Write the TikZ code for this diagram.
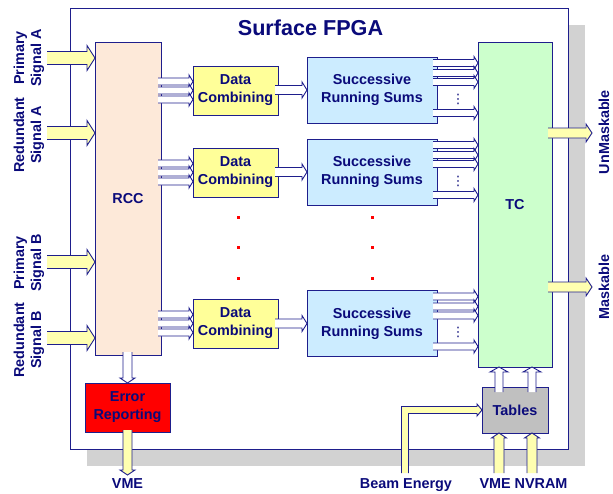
\documentclass[tikz,border=0pt]{standalone}
\usepackage{fontspec}
\setmainfont{Liberation Sans}
\newfontfamily\djv{DejaVu Sans}
\usetikzlibrary{calc}
\definecolor{txtC}{HTML}{0A0A7A}
\definecolor{lineC}{HTML}{1E1E8C}
\definecolor{rccC}{HTML}{FDE9D9}
\definecolor{dcC}{HTML}{FFFF99}
\definecolor{srsC}{HTML}{CCECFF}
\definecolor{tcC}{HTML}{CCFFCC}
\definecolor{tabC}{HTML}{C0C0C0}
\definecolor{errC}{HTML}{FF0000}
\definecolor{yelC}{HTML}{FFFFB0}
\definecolor{shadowC}{HTML}{D2D2D2}
\definecolor{dotC}{HTML}{FF0000}
% horizontal arrow pointing right: style, from, to, body half, head half, head length
\newcommand\hArr[6]{\path[#1] let \p1=#2, \p2=#3 in
  (\x1,\y2+#4) -- (\x2-#6,\y2+#4) -- (\x2-#6,\y2+#5) -- (\x2,\y2) -- (\x2-#6,\y2-#5) -- (\x2-#6,\y2-#4) -- (\x1,\y2-#4);}
% vertical arrow pointing down
\newcommand\dArr[6]{\path[#1] let \p1=#2, \p2=#3 in
  (\x2+#4,\y1) -- (\x2+#4,\y2+#6) -- (\x2+#5,\y2+#6) -- (\x2,\y2) -- (\x2-#5,\y2+#6) -- (\x2-#4,\y2+#6) -- (\x2-#4,\y1);}
% vertical arrow pointing up
\newcommand\uArr[6]{\path[#1] let \p1=#2, \p2=#3 in
  (\x2+#4,\y1) -- (\x2+#4,\y2-#6) -- (\x2+#5,\y2-#6) -- (\x2,\y2) -- (\x2-#5,\y2-#6) -- (\x2-#4,\y2-#6) -- (\x2-#4,\y1);}
\tikzset{
  boxnode/.style={draw=lineC, line width=1pt, inner sep=0pt, outer sep=0pt, text=txtC,
    font=\bfseries\fontsize{14.4}{18}\selectfont, align=center},
  hollow/.style={fill=white, draw=lineC, line width=0.9pt, line join=miter},
  yel/.style={fill=yelC, draw=lineC, line width=0.9pt, line join=miter},
  lbl/.style={text=txtC, font=\bfseries\fontsize{14.4}{17}\selectfont, align=center, inner sep=0pt},
}
\begin{document}
\begin{tikzpicture}[x=1pt,y=-1pt]
\useasboundingbox (0,0) rectangle (613,493);
% shadow and frame
\fill[shadowC] (87,25) rectangle (585,466);
\node[draw=lineC, fill=white, line width=1pt, inner sep=0pt, outer sep=0pt,
  minimum width=498pt, minimum height=441pt] (frame) at (319,228.5) {};
\node[lbl, anchor=base, font=\bfseries\fontsize{21.6}{26}\selectfont] (title) at (310.5,35) {Surface FPGA};
% boxes
\node[boxnode, fill=rccC, minimum width=66pt, minimum height=313pt] (rcc) at (128,198.5) {RCC};
\node[boxnode, fill=dcC, minimum width=85pt, minimum height=49pt] (dc1) at (235.5,90.5) {Data\\Combining};
\node[boxnode, fill=dcC, minimum width=85pt, minimum height=49pt] (dc2) at (235.5,172.5) {Data\\Combining};
\node[boxnode, fill=dcC, minimum width=85pt, minimum height=49pt] (dc3) at (235.5,323.5) {Data\\Combining};
\node[boxnode, fill=srsC, minimum width=130pt, minimum height=66pt] (srs1) at (372,90) {Successive\\Running Sums};
\node[boxnode, fill=srsC, minimum width=130pt, minimum height=66pt] (srs2) at (372,172) {Successive\\Running Sums};
\node[boxnode, fill=srsC, minimum width=130pt, minimum height=66pt] (srs3) at (372,323.5) {Successive\\Running Sums};
\node[boxnode, fill=tcC, minimum width=74pt, minimum height=325pt] (tc) at (515,204.5) {TC};
\node[boxnode, fill=tabC, minimum width=66pt, minimum height=46pt] (tables) at (515,410) {Tables};
\node[boxnode, fill=errC, minimum width=85pt, minimum height=49pt] (err) at (127.5,407.5) {Error\\Reporting};
% red dots
\foreach \xx in {238,372} \foreach \yy in {217,247,278}
  \fill[dotC] (\xx-1.5,\yy-1.5) rectangle ++(3,3);
% input arrows
\coordinate (inPA) at (47,58);
\coordinate (inRA) at (47,133);
\coordinate (inPB) at (47,262);
\coordinate (inRB) at (47,338);
\foreach \c in {inPA,inRA,inPB,inRB}
  \hArr{yel}{(\c)}{(\c -| rcc.west)}{6.5pt}{12.5pt}{8pt};
% input labels
\node[lbl, rotate=90] (lPA) at (29,58) {Primary\\Signal A};
\node[lbl, rotate=90] (lRA) at (29,135) {Redundant\\Signal A};
\node[lbl, rotate=90] (lPB) at (29,263) {Primary\\Signal B};
\node[lbl, rotate=90] (lRB) at (29,340) {Redundant\\Signal B};
% RCC -> Data Combining
\foreach \d in {dc1,dc2,dc3} \foreach \o in {-9,0,9}
  \hArr{hollow}{($(rcc.east)+(-3,0)$)}{($(\d.west)+(0,\o)$)}{3.5pt}{6.5pt}{4pt};
% Data Combining -> Successive Running Sums
\foreach \i in {1,2,3}
  \hArr{hollow}{($(dc\i.east)+(-3,0)$)}{(srs\i.west)}{4.5pt}{8pt}{5pt};
% Successive Running Sums -> TC
\foreach \i in {1,2,3}{
  \foreach \o in {-27,-17,-8,23}
    \hArr{hollow}{($(srs\i.east)+(-4,0)$)}{($(srs\i.east -| tc.west)+(0,\o)$)}{3.5pt}{6.5pt}{4pt};
  \node[text=txtC, inner sep=0pt, font=\djv\fontsize{13}{13}\selectfont] (dt\i) at ($(srs\i.east)+(21,9)$) {⋮};
}
% TC outputs
\coordinate (outU) at (592,133);
\coordinate (outM) at (592,287);
\hArr{yel}{($(tc.east |- outU)+(-4,0)$)}{(outU)}{5pt}{9pt}{6pt};
\hArr{yel}{($(tc.east |- outM)+(-4,0)$)}{(outM)}{5pt}{9pt}{6pt};
\node[lbl, rotate=90] (lU) at (604,132) {UnMaskable};
\node[lbl, rotate=90] (lM) at (604,287) {Maskable};
% RCC -> Error Reporting -> VME
\dArr{hollow}{($(rcc.south)+(0,-3)$)}{(err.north)}{4.5pt}{7.5pt}{5pt};
\coordinate (vmeOut) at (127.5,475);
\dArr{yel}{($(err.south)+(0,-2)$)}{(vmeOut)}{4.5pt}{7.5pt}{5pt};
\node[lbl, anchor=base] (lVME) at (127.5,488) {VME};
% Tables -> TC
\foreach \o in {-16,17}
  \uArr{hollow}{($(tables.north)+(\o,5)$)}{($(tc.south)+(\o,0)$)}{4pt}{9pt}{5pt};
% VME / NVRAM -> Tables
\coordinate (vmeIn) at (499,473);
\coordinate (nvIn) at (532,473);
\uArr{yel}{(vmeIn)}{(vmeIn |- tables.south)}{5pt}{7.5pt}{5pt};
\uArr{yel}{(nvIn)}{(nvIn |- tables.south)}{5pt}{7.5pt}{5pt};
\node[lbl, anchor=base] (lVN) at (523.5,488) {VME NVRAM};
% Beam Energy -> Tables
\coordinate (beamIn) at (405,473);
\path[yel] let \p1=(beamIn), \p2=(tables.west) in
  (\x1-3.5pt,\y1) -- (\x1-3.5pt,\y2+3.5pt) -- (\x2-5pt,\y2+3.5pt) -- (\x2-5pt,\y2+6pt) -- (\x2,\y2)
  -- (\x2-5pt,\y2-6pt) -- (\x2-5pt,\y2-3.5pt) -- (\x1+3.5pt,\y2-3.5pt) -- (\x1+3.5pt,\y1);
\node[lbl, anchor=base] (lBeam) at (406,488) {Beam Energy};
\end{tikzpicture}
\end{document}
